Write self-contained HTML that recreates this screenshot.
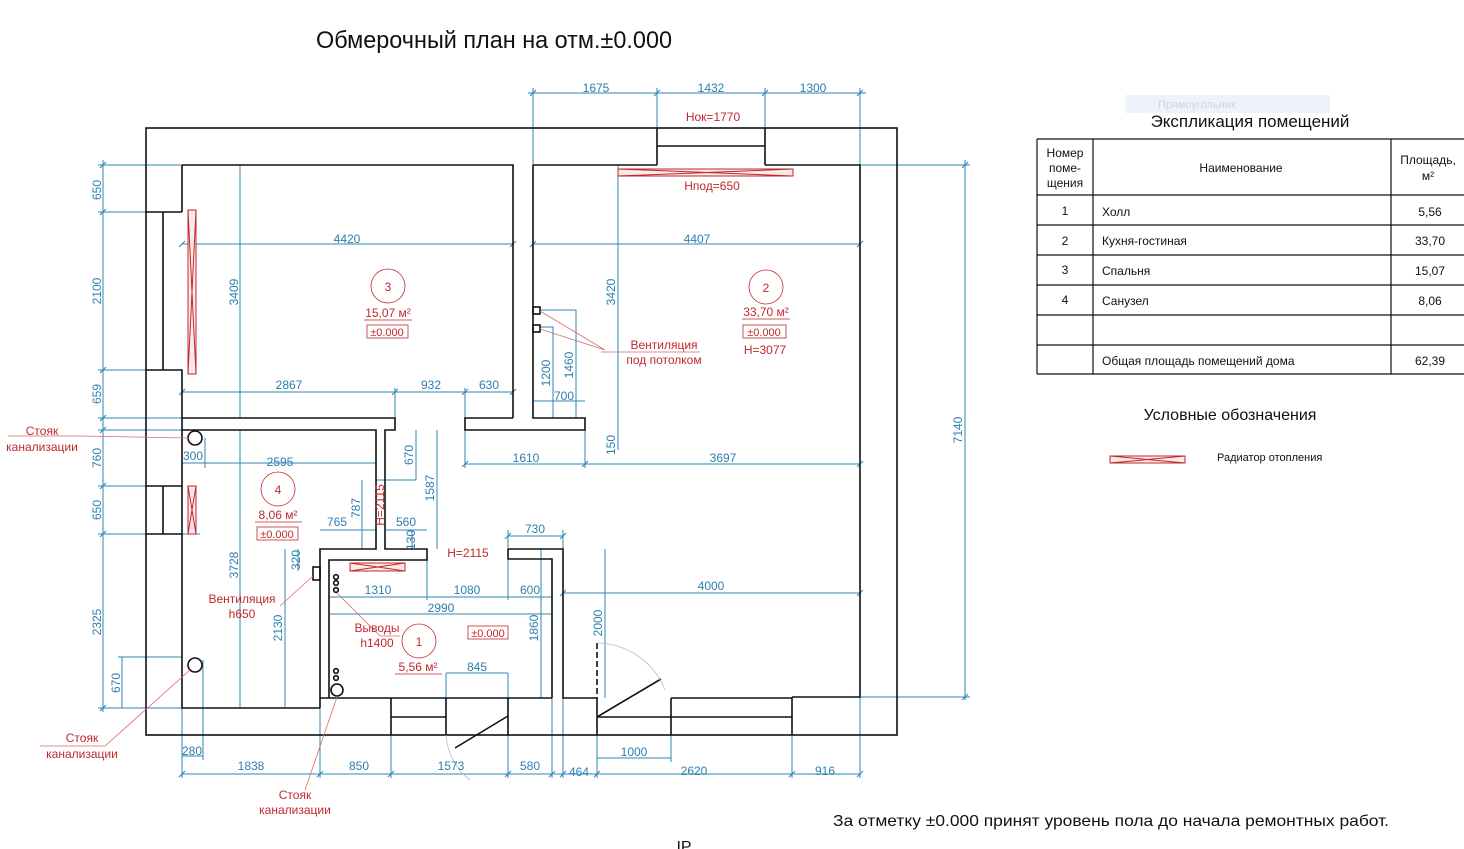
<!DOCTYPE html>
<html><head><meta charset="utf-8"><style>
html,body{margin:0;padding:0;background:#fff;width:1464px;height:849px;overflow:hidden}
svg{display:block}
text{font-family:"Liberation Sans","DejaVu Sans",sans-serif}
.w{stroke:#111;stroke-width:1.6;fill:none}
.d{stroke:#2d86b4;stroke-width:1;fill:none}
.dt{fill:#2d7fad;font-size:12px;text-anchor:middle}
.r{fill:#c0282c;font-size:12px;text-anchor:middle}
.rl{stroke:#d96b6e;stroke-width:0.8;fill:none}
.rad{stroke:#c0282c;stroke-width:1;fill:#fbe9e9}
.t{fill:#111;font-size:12px}
</style></head><body>
<svg width="1464" height="849" viewBox="0 0 1464 849" xmlns="http://www.w3.org/2000/svg">
<text x="494" y="48" font-size="24" text-anchor="middle" fill="#111" textLength="356" lengthAdjust="spacingAndGlyphs">Обмерочный план на отм.±0.000</text>

<!-- dimension lines -->
<g class="d">
<!-- top -->
<path d="M528 93H866M533 88V165M657 88V128M765 88V128M860 88V165"/>
<!-- 4420 / 4407 -->
<path d="M182 244H513M533 244H860M240 165V418M618 165V430"/>
<!-- 2867 932 630 -->
<path d="M182 392H513M395 388V418M465 388V418"/>
<!-- vent -->
<path d="M540 310H576V418M540 327H553V418M533 401H585"/>
<!-- 1610 3697 -->
<path d="M465 430V468M465 464H860M585 430V468M618 430V450"/>
<!-- left -->
<path d="M103 160V712M98 165H182M98 212H146M98 370H146M98 418H182M98 430H182M98 486H146M98 534H200M98 708H182M122 657V708M118 657H182"/>
<!-- 7140 -->
<path d="M965 160V700M860 165H970M860 697H970"/>
<!-- bathroom -->
<path d="M182 463H376M205 438V468M240 430V708M285 549V708M298 549V571M320 530H376M385 530H427M362 480V549M416 430V480M437 430V549M412 530V549M376 480H416"/>
<!-- hall -->
<path d="M329 597H552M427 560V600M508 560V600M329 614H552M541 549V698M508 536H563M508 530V549M563 530V549M605 549V698M563 593H860M446 673H508M446 673V698M508 673V698"/>
<!-- bottom -->
<path d="M182 774H860M182 708V778M203 660V760M182 756H203M320 708V778M391 735V778M508 735V778M552 698V778M563 698V778M597 735V778M671 735V762M792 735V778M860 697V778M597 758H671"/>
</g>
<!-- ticks -->
<g stroke="#2d86b4" stroke-width="1">
<path d="M530 96l6-6M654 96l6-6M762 96l6-6M857 96l6-6M179 247l6-6M510 247l6-6M530 247l6-6M857 247l6-6M179 395l6-6M392 395l6-6M462 395l6-6M510 395l6-6M462 467l6-6M582 467l6-6M857 467l6-6M100 168l6-6M100 215l6-6M100 373l6-6M100 421l6-6M100 433l6-6M100 489l6-6M100 537l6-6M100 711l6-6M962 168l6-6M962 700l6-6M179 777l6-6M317 777l6-6M388 777l6-6M505 777l6-6M549 777l6-6M560 777l6-6M594 777l6-6M789 777l6-6M857 777l6-6M560 596l6-6M857 596l6-6M505 539l6-6M560 539l6-6"/>
</g>

<!-- walls -->
<g class="w">
<rect x="146" y="128" width="751" height="607"/>
<path d="M182 165H513V418M182 165V212M146 212H182M146 370H182V708H320M163 212V370M146 486H182M146 534H182M163 486V534"/>
<path d="M182 418H395V430H385V549H427V560H329V698M182 430H376V549H320V708"/>
<path d="M533 165H657M765 165H860V697H792M657 128V165M765 128V165M657 146H765M533 165V418H585V430H465V418H513"/>
<path d="M508 549H563V698H597M508 549V559H552V698M320 698H552M391 698V735M446 698V735M391 717H446M508 698V735"/>
<path d="M597 698V735M671 698V735M792 697V735M671 698H792M597 717H792"/>
<path d="M597 643V698" stroke-dasharray="6 3"/>
<path d="M597 717L661 679M455 748L508 716"/>
<rect x="533" y="307" width="7" height="7"/>
<rect x="533" y="325" width="7" height="7"/>
<rect x="313" y="567" width="7" height="13"/>
<circle cx="195" cy="438" r="7"/>
<circle cx="195" cy="665" r="7"/>
<circle cx="337" cy="690" r="6"/>
<circle cx="336" cy="577" r="2.3"/><circle cx="336" cy="583" r="2.3"/><circle cx="336" cy="590" r="2.3"/>
<circle cx="336" cy="671" r="2.3"/><circle cx="336" cy="678" r="2.3"/>
</g>
<path d="M597 643A74 74 0 0 1 665 690M446 735A62 62 0 0 0 470 780" stroke="#bbb" stroke-width="0.8" fill="none"/>

<!-- radiators -->
<g class="rad">
<rect x="188" y="210" width="8" height="164"/><path d="M188 210L196 374M196 210L188 374"/>
<rect x="618" y="169" width="175" height="7"/><path d="M618 169L793 176M618 176L793 169"/>
<rect x="188" y="486" width="8" height="48"/><path d="M188 486L196 534M196 486L188 534"/>
<rect x="350" y="563" width="55" height="8"/><path d="M350 563L405 571M350 571L405 563"/>
<rect x="1110" y="456" width="75" height="7"/><path d="M1110 456L1185 463M1110 463L1185 456"/>
</g>

<!-- red leaders -->
<g class="rl">
<path d="M8 436H80L188 438M40 746H105L190 670M305 790L337 697M280 606L313 576M400 636H380L337 593M605 350L540 311M605 350L540 329M601 352H700"/>
</g>

<!-- room labels -->
<g fill="none" stroke="#c0282c" stroke-width="0.8">
<circle cx="388" cy="286" r="17"/><circle cx="766" cy="287" r="17"/><circle cx="278" cy="489" r="17"/><circle cx="419" cy="641" r="17"/>
<path d="M364 320H412M742 319H790M255 522H302M395 674H442"/>
<rect x="367" y="325" width="41" height="13"/><rect x="743" y="325" width="43" height="13"/><rect x="257" y="527" width="41" height="13"/><rect x="468" y="626" width="40" height="13"/>
</g>
<g class="r">
<text x="388" y="291">3</text><text x="766" y="292">2</text><text x="278" y="494">4</text><text x="419" y="646">1</text>
<text x="388" y="317">15,07 м²</text><text x="766" y="316">33,70 м²</text><text x="278" y="519">8,06 м²</text><text x="418" y="671">5,56 м²</text>
<text x="387" y="336" font-size="11">±0.000</text><text x="764" y="336" font-size="11">±0.000</text><text x="277" y="538" font-size="11">±0.000</text><text x="488" y="637" font-size="11">±0.000</text>
<text x="765" y="354">H=3077</text>
<text x="713" y="121">Нок=1770</text><text x="712" y="190">Нпод=650</text>
<text x="664" y="349">Вентиляция</text><text x="664" y="364">под потолком</text>
<text x="42" y="435">Стояк</text><text x="42" y="451">канализации</text>
<text x="82" y="742">Стояк</text><text x="82" y="758">канализации</text>
<text x="295" y="799">Стояк</text><text x="295" y="814">канализации</text>
<text x="242" y="603">Вентиляция</text><text x="242" y="618">h650</text>
<text x="377" y="632">Выводы</text><text x="377" y="647">h1400</text>
<text x="468" y="557">H=2115</text>
<text transform="translate(384,505) rotate(-90)">H=2115</text>
</g>

<!-- dimension texts -->
<g class="dt">
<text x="596" y="92">1675</text><text x="711" y="92">1432</text><text x="813" y="92">1300</text>
<text x="347" y="243">4420</text><text x="697" y="243">4407</text>
<text x="289" y="389">2867</text><text x="431" y="389">932</text><text x="489" y="389">630</text>
<text x="564" y="400">700</text><text x="526" y="462">1610</text><text x="723" y="462">3697</text>
<text x="193" y="460">300</text><text x="280" y="466">2595</text>
<text x="337" y="526">765</text><text x="406" y="526">560</text>
<text x="378" y="594">1310</text><text x="467" y="594">1080</text><text x="530" y="594">600</text>
<text x="441" y="612">2990</text><text x="535" y="533">730</text><text x="711" y="590">4000</text>
<text x="477" y="671">845</text>
<text x="192" y="755">280</text><text x="634" y="756">1000</text>
<text x="251" y="770">1838</text><text x="359" y="770">850</text><text x="451" y="770">1573</text><text x="530" y="770">580</text>
<text x="579" y="776">464</text><text x="694" y="775">2620</text><text x="825" y="775">916</text>
<g>
<text transform="translate(101,190) rotate(-90)">650</text>
<text transform="translate(101,291) rotate(-90)">2100</text>
<text transform="translate(101,394) rotate(-90)">659</text>
<text transform="translate(101,458) rotate(-90)">760</text>
<text transform="translate(101,510) rotate(-90)">650</text>
<text transform="translate(101,622) rotate(-90)">2325</text>
<text transform="translate(120,683) rotate(-90)">670</text>
<text transform="translate(238,292) rotate(-90)">3409</text>
<text transform="translate(615,292) rotate(-90)">3420</text>
<text transform="translate(550,373) rotate(-90)">1200</text>
<text transform="translate(573,365) rotate(-90)">1460</text>
<text transform="translate(615,445) rotate(-90)">150</text>
<text transform="translate(962,430) rotate(-90)">7140</text>
<text transform="translate(238,565) rotate(-90)">3728</text>
<text transform="translate(282,628) rotate(-90)">2130</text>
<text transform="translate(300,560) rotate(-90)">320</text>
<text transform="translate(360,508) rotate(-90)">787</text>
<text transform="translate(413,455) rotate(-90)">670</text>
<text transform="translate(434,488) rotate(-90)">1587</text>
<text transform="translate(415,540) rotate(-90)">130</text>
<text transform="translate(538,628) rotate(-90)">1860</text>
<text transform="translate(602,623) rotate(-90)">2000</text>
</g>
</g>

<!-- right side -->
<rect x="1125" y="95" width="205" height="18" fill="#eef3fa"/>
<text x="1158" y="108" font-size="11" fill="#c9d6e6">Прямоугольник</text>
<text x="1250" y="127" font-size="17" text-anchor="middle" fill="#111">Экспликация помещений</text>
<g stroke="#111" stroke-width="1.2" fill="none">
<path d="M1037 139H1470M1037 195H1470M1037 225H1470M1037 255H1470M1037 285H1470M1037 315H1470M1037 345H1470M1037 374H1470M1037 139V374M1093 139V374M1391 139V374"/>
</g>
<g class="t" font-size="11">
<text x="1065" y="157" text-anchor="middle">Номер</text>
<text x="1065" y="172" text-anchor="middle">поме-</text>
<text x="1065" y="187" text-anchor="middle">щения</text>
<text x="1241" y="172" text-anchor="middle">Наименование</text>
<text x="1428" y="164" text-anchor="middle">Площадь,</text>
<text x="1428" y="180" text-anchor="middle">м²</text>
<text x="1065" y="215" text-anchor="middle">1</text><text x="1102" y="216">Холл</text><text x="1430" y="216" text-anchor="middle">5,56</text>
<text x="1065" y="245" text-anchor="middle">2</text><text x="1102" y="245">Кухня-гостиная</text><text x="1430" y="245" text-anchor="middle">33,70</text>
<text x="1065" y="274" text-anchor="middle">3</text><text x="1102" y="275">Спальня</text><text x="1430" y="275" text-anchor="middle">15,07</text>
<text x="1065" y="304" text-anchor="middle">4</text><text x="1102" y="305">Санузел</text><text x="1430" y="305" text-anchor="middle">8,06</text>
<text x="1102" y="365">Общая площадь помещений дома</text><text x="1430" y="365" text-anchor="middle">62,39</text>
</g>
<text x="1230" y="420" font-size="16" text-anchor="middle" fill="#111">Условные обозначения</text>
<text x="1217" y="461" font-size="11" fill="#111">Радиатор отопления</text>
<text x="1111" y="826" font-size="16" text-anchor="middle" fill="#111" textLength="556" lengthAdjust="spacingAndGlyphs">За отметку ±0.000 принят уровень пола до начала ремонтных работ.</text>
<text x="684" y="852" font-size="16" text-anchor="middle" fill="#111">IP</text>
</svg>
</body></html>
